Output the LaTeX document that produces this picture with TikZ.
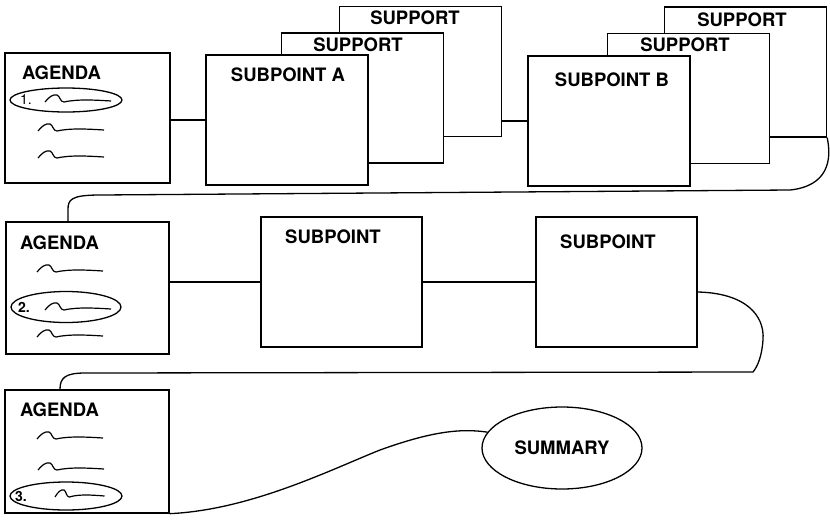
\documentclass[tikz,border=0pt]{standalone}
\usepackage{fontspec}
\setmainfont{TeX Gyre Heros}
\usetikzlibrary{shapes.geometric}

\begin{document}
\begin{tikzpicture}[x=1pt, y=-1pt, line width=1.3pt,
		box/.style={draw, fill=white, rectangle, minimum width=162pt, minimum height=130pt, inner sep=0pt},
		head/.style={font=\bfseries\fontsize{18.5}{20}\selectfont, inner sep=0pt},
		num/.style={font=\bfseries\fontsize{14}{16}\selectfont, inner sep=0pt, anchor=west},
		ring/.style={draw, ellipse, minimum width=112pt, minimum height=26pt, inner sep=0pt},
		squiggle/.pic={\draw[line width=1.2pt] (0,1) .. controls (4,-4) and (8,-7) .. (12,-6) .. controls (15,-5) and (15,1) .. (19,1) .. controls (32,-2) and (50,-1) .. (66,0);}]
			\useasboundingbox (0,0) rectangle (830,523);
			\node[box] (supA2) at (420.5,71.5) {};
			\node[box] (supA1) at (362.5,98) {};
			\node[box] (subA) at (287,120) {};
			\node[box] (supB2) at (745.5,72) {};
			\node[box] (supB1) at (688.5,98.5) {};
			\node[box] (subB) at (609,121) {};
			\node[box, minimum width=165pt] (ag1) at (87.5,118) {};
			\node[box, minimum width=163pt, minimum height=132pt] (ag2) at (87.5,288) {};
			\node[box, minimum width=161pt] (sub1) at (341.5,282) {};
			\node[box, minimum width=161pt] (sub2) at (616.5,282) {};
			\node[box, minimum width=164pt, minimum height=123pt] (ag3) at (87,451.5) {};
			\node[draw, ellipse, minimum width=160pt, minimum height=82pt, head] (sum) at (562,448) {SUMMARY};
			\node[head] (supA2-t) at ([xshift=-5.5pt, yshift=-12pt]supA2.north) {SUPPORT};
			\node[head] (supA1-t) at ([xshift=-4.5pt, yshift=-12pt]supA1.north) {SUPPORT};
			\node[head] (subA-t) at ([xshift=1pt, yshift=-20pt]subA.north) {SUBPOINT A};
			\node[head] (supB2-t) at ([xshift=-3.5pt, yshift=-13pt]supB2.north) {SUPPORT};
			\node[head] (supB1-t) at ([xshift=-3.5pt, yshift=-12pt]supB1.north) {SUPPORT};
			\node[head] (subB-t) at ([xshift=3pt, yshift=-24pt]subB.north) {SUBPOINT B};
			\node[head] (sub1-t) at ([xshift=-8.5pt, yshift=-20pt]sub1.north) {SUBPOINT};
			\node[head] (sub2-t) at ([xshift=-8.5pt, yshift=-25pt]sub2.north) {SUBPOINT};
			\node[head, anchor=west] (ag1-t) at ([xshift=17pt, yshift=-20pt]ag1.north west) {AGENDA};
			\node[head, anchor=west] (ag2-t) at ([xshift=14pt, yshift=-21pt]ag2.north west) {AGENDA};
			\node[head, anchor=west] (ag3-t) at ([xshift=15pt, yshift=-20pt]ag3.north west) {AGENDA};
			\node[ring, minimum height=24pt] (ring1) at (66,100) {};
			\node[ring, minimum width=110pt, minimum height=31pt] (ring2) at (66,307) {};
			\node[ring, minimum height=28pt] (ring3) at (66,496) {};
			\node[num, font=\fontsize{14}{16}\selectfont] (n1) at ([xshift=10pt]ring1.west) {1.};
			\node[num] (n2) at ([xshift=7pt]ring2.west) {2.};
			\node[num] (n3) at ([xshift=5pt]ring3.west) {3.};
			\pic at (45,101) {squiggle};
			\pic at (38,130) {squiggle};
			\pic at (38,157) {squiggle};
			\pic at (37,271) {squiggle};
			\pic at (45,309) {squiggle};
			\pic at (37,336) {squiggle};
			\pic at (37,438) {squiggle};
			\pic at (38,469) {squiggle};
			\pic[xscale=0.75] at (55,496) {squiggle};
			\draw (subA.west -| ag1.east) -- (subA.west);
			\draw (subB.west -| supA2.east) -- (subB.west);
			\draw (supB2.south east) .. controls (832,160) and (828,186) .. (790,190) -- (100,195) .. controls (70,195) and (68,200) .. (68,210) -- ([xshift=-19.5pt]ag2.north);
			\draw (sub1.west -| ag2.east) -- (sub1.west);
			\draw (sub1) -- (sub2);
			\draw ([yshift=-10pt]sub2.east) .. controls (745,293) and (765,315) .. (763,340) .. controls (762,355) and (758,366) .. (753,372) -- (85,373) .. controls (65,373) and (60,378) .. ([xshift=-27pt]ag3.north);
			\draw (ag3.south east) .. controls (250,510) and (330,470) .. (380,450) .. controls (430,432) and (460,428) .. (sum.168);
		\end{tikzpicture}
\end{document}
